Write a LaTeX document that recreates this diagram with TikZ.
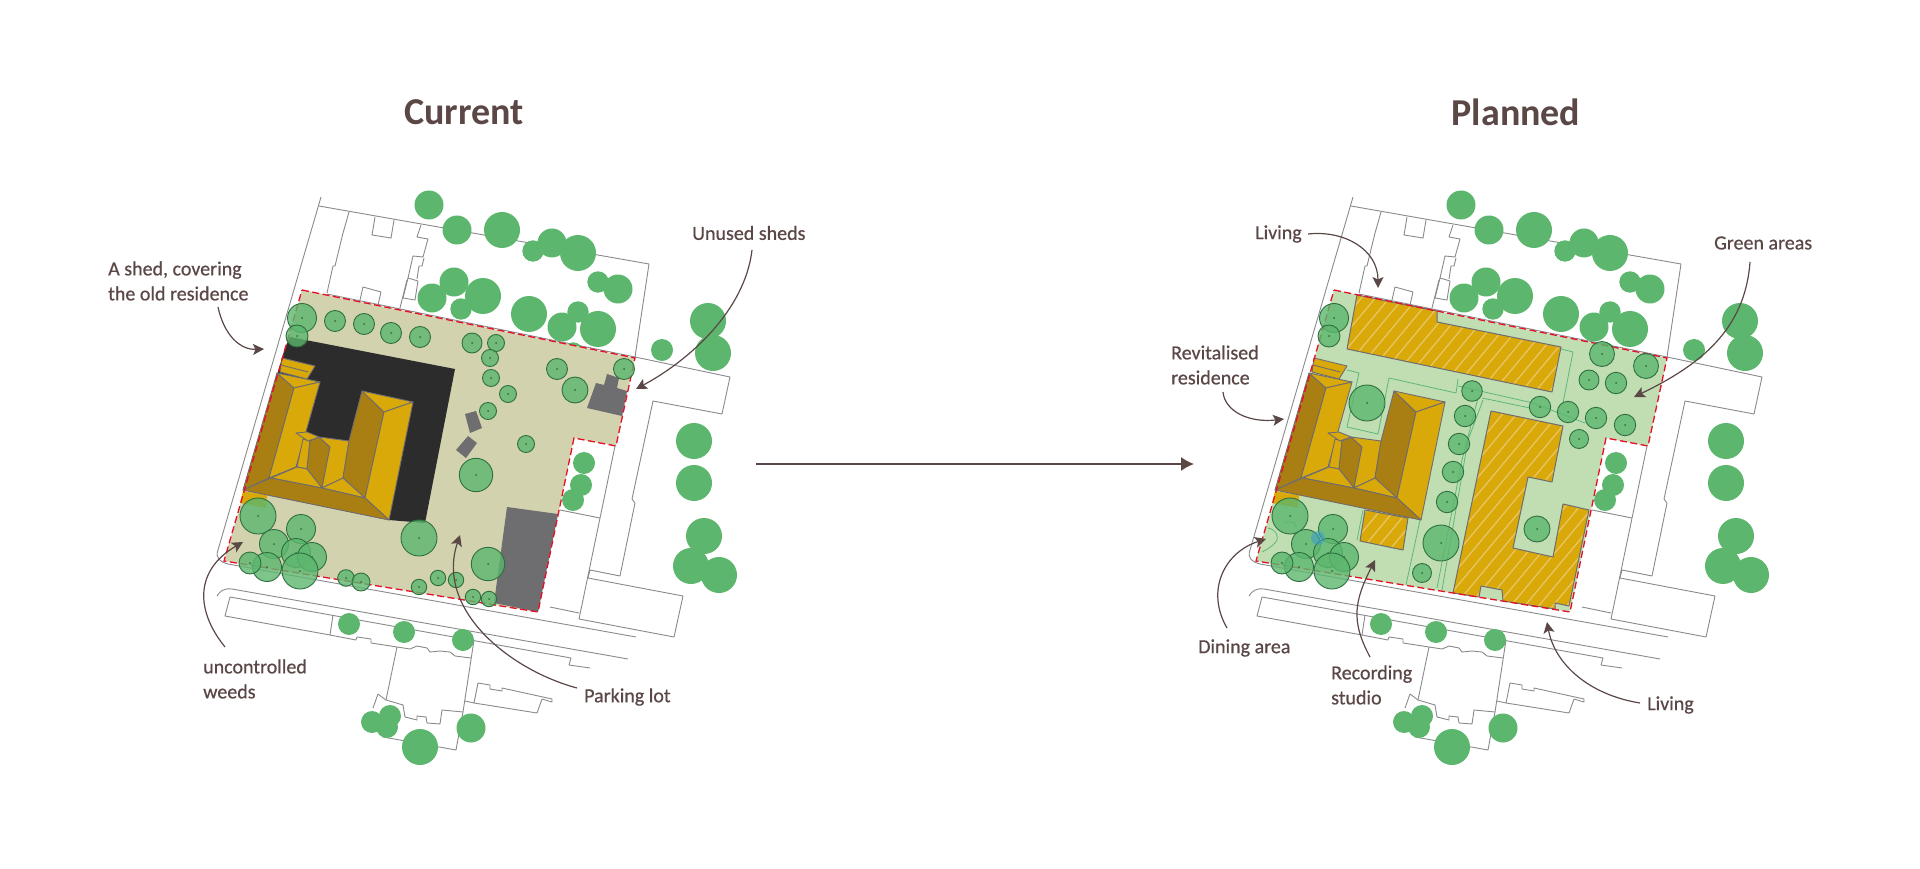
\documentclass[tikz,border=0pt]{standalone}
\usepackage{fontspec}
\setmainfont{Carlito}
\newfontfamily\notefont[FakeBold=0.6]{Carlito}
\usetikzlibrary{arrows.meta}

\definecolor{inkbrown}{HTML}{5A4746}
\definecolor{mapgray}{HTML}{8A898B}
\definecolor{treegreen}{HTML}{5CB66D}
\definecolor{treeedge}{HTML}{2E7040}
\definecolor{sandzone}{HTML}{D3D2AE}
\definecolor{greenzone}{HTML}{C1DEB3}
\definecolor{shedblack}{HTML}{2C2C2C}
\definecolor{shedgray}{HTML}{6E6D70}
\definecolor{roofdark}{HTML}{A97F13}
\definecolor{rooflight}{HTML}{D9A90A}
\definecolor{roofedge}{HTML}{6F6C70}
\definecolor{hatchlight}{HTML}{E8C566}
\definecolor{pathgreen}{HTML}{5DB77B}
\definecolor{siteblue}{HTML}{3E9FC4}
\definecolor{sitered}{HTML}{E60F28}

\tikzset{
    mapline/.style={draw=mapgray,line width=0.9pt,line join=round},
    solidtree/.style={fill=treegreen},
    canopy/.style={fill=treegreen,fill opacity=0.8,draw=treeedge,line width=0.9pt},
    siteedge/.style={draw=sitered,line width=1.3pt,dash pattern=on 7pt off 3.5pt},
    darkroof/.style={fill=roofdark,draw=roofedge,line width=0.9pt,line join=round},
    lightroof/.style={fill=rooflight,draw=roofedge,line width=0.9pt,line join=round},
    newblock/.style={fill=rooflight},
    blockedge/.style={draw=roofedge,line width=1pt,line join=round},
    gardenpath/.style={draw=pathgreen,line width=0.8pt},
    titletext/.style={text=inkbrown,font=\bfseries\fontsize{38}{40}\selectfont},
    notetext/.style={text=inkbrown,align=left,anchor=west,inner sep=0pt,font=\notefont\fontsize{20}{25}\selectfont},
    callout/.style={draw=inkbrown,line width=1.2pt,-{Stealth[length=11pt,width=11pt,inset=2.5pt]}},
}

% grey street map and the trees outside the site
\newcommand{\streetmap}{
    \draw[mapline] (321,197) -- (218,550) .. controls (215,558) and (220,562) .. (228,564) -- (636,637);
    \draw[mapline] (319,206) -- (649,264) -- (635,357) -- (730,377) -- (722,414) -- (653,401) -- (632,499) -- (635,503) -- (620,576) -- (590,570) -- (588,578) -- (683,596) -- (674,637) -- (579,619) -- (615,446);
    \draw[mapline] (327,294) -- (635,357);
    \draw[mapline] (349,212) -- (343,233) -- (335,266) -- (333,266) -- (327,293);
    \draw[mapline] (421,225) -- (417,237) -- (428,239) -- (423,257) -- (413,256) -- (408,278) -- (403,298) -- (415,300) -- (418,281) -- (408,278);
    \draw[mapline] (424,258) -- (422,266) -- (419,266) -- (417,279);
    \draw[mapline] (407,280) -- (400,308);
    \draw[mapline] (375,217) -- (372,235) -- (391,238) -- (394,220);
    \draw[mapline] (360,300) -- (363,287) -- (381,292) -- (378,305);
    \draw[mapline] (560,510) -- (600,518);
    \draw[mapline] (550,607) -- (579,613);
    \draw[mapline] (217,596) .. controls (220,591) and (224,588) .. (232,589) -- (628,659);
    \draw[mapline] (230,597) -- (225,616) -- (330,635) -- (356,640) -- (357,637) -- (371,639) -- (371,643) -- (397,647) -- (410,649) -- (417,646) -- (427,648) -- (430,652) -- (440,651) -- (450,652) -- (455,656) -- (471,658);
    \draw[mapline] (230,597) -- (571,658) -- (569,665) -- (590,668);
    \draw[mapline] (330,635) -- (333,615);
    \draw[mapline] (474,640) -- (463,712) -- (456,750) -- (383,737);
    \draw[mapline] (397,647) -- (386,700) -- (403,705) -- (405,717) -- (417,720) -- (417,716) -- (426,717) -- (427,723) -- (440,724) -- (442,710) -- (463,712);
    \draw[mapline] (386,700) -- (378,694) -- (373,708);
    \draw[mapline] (465,701) -- (474,703) -- (478,683) -- (490,685) -- (490,689) -- (502,691) -- (502,688) -- (552,699) -- (552,702) -- (542,699) -- (537,713) -- (474,703);
    \foreach \cx/\cy/\cr in {429/205/14.5,457/230/14.5,502/230/18,533/251/10.7,552/243/14.5,578/253/18,598/282/10.7,618/289/14.5,432/298/14.5,454/282/14.5,483/296/18,461/309/10.7,529/314/18,562/327/14.5,578/312/10.7,598/329/18,573/353/10.7,708/321/18,713/353/18,662/350/11,694/441/18,694/483/18,704/536/18,691/566/18,719/575/18,584/463/11,581/485/11,573/500/11,349/624/11,404/632/11,463/640/11,372/722/11,390/716/11,387/727/11,420/747/18,471/728/14.5}
        \fill[solidtree] (\cx,\cy) circle (\cr);
}
\newcommand{\sitezone}[1]{
    \fill[#1] (302,290) -- (635,358) -- (616,446) -- (574,438) -- (538,612) -- (224,561) -- cycle;
}
\newcommand{\siteoutline}{
    \draw[siteedge] (302,290) -- (635,358) -- (616,446) -- (574,438) -- (538,612) -- (224,561) -- cycle;
}
% the old house, same on both plans
\newcommand{\oldhouse}{
    \fill[rooflight] (243,491) -- (267,495) -- (266,508) -- (240,503) -- cycle;
    \draw[lightroof] (282,358) -- (315,366) -- (307,379) -- (280,372) -- cycle;
    \draw[lightroof] (281,365) -- (308,372);
    \draw[darkroof] (277,373) -- (294,388) -- (269,478) -- (243,490) -- cycle;
    \draw[lightroof] (277,373) -- (320,382) -- (294,388) -- cycle;
    \draw[lightroof] (294,388) -- (320,382) -- (296,467) -- (269,478) -- cycle;
    \draw[lightroof] (303,439) -- (310,441) -- (307,469) -- (297,467) -- cycle;
    \draw[darkroof] (319,437) -- (330,447) -- (322,488) -- (307,469) -- (310,441) -- cycle;
    \draw[lightroof] (319,437) -- (349,441) -- (343,478) -- (322,488) -- (330,447) -- cycle;
    \draw[lightroof] (296,433) -- (307,432) -- (319,437) -- (308,441) -- cycle;
    \draw[darkroof] (362,391) -- (384,412) -- (365,498) -- (343,478) -- (349,441) -- cycle;
    \draw[lightroof] (362,391) -- (413,402) -- (384,412) -- cycle;
    \draw[lightroof] (384,412) -- (413,402) -- (389,520) -- (365,498) -- cycle;
    \draw[lightroof] (271,478) -- (297,467) -- (307,469) -- (322,488) -- cycle;
    \draw[lightroof] (322,488) -- (343,478) -- (365,498) -- cycle;
    \draw[darkroof] (243,490) -- (271,478) -- (322,488) -- (365,498) -- (389,520) -- cycle;
}
% the tree group in the south-west corner, same on both plans
\newcommand{\cornertrees}{
    \foreach \cx/\cy/\cr in {302/318/14.5,297/336/11,258/516/18,301/529/14.5,274/544/14.5,296/553/14.5,312/557/14.5,267/567/14.5,250/563/11,300/571/18} {
        \draw[canopy] (\cx,\cy) circle (\cr);
        \fill[treeedge] (\cx,\cy) circle (1);
    }
}
% one hatched new building
\newcommand{\newhall}[1]{
    \fill[newblock] #1;
    \begin{scope}
        \clip #1;
        \foreach \k in {1040,1054,...,1720}
            \draw[hatchlight,line width=1.3pt] (\k,650) -- ++(300,-360);
    \end{scope}
    \draw[blockedge] #1;
}

\begin{document}
\begin{tikzpicture}[x=1pt,y=-1pt]
    \useasboundingbox (0,0) rectangle (1920,869);

    \node (currenttitle) at (464,112) [titletext] {Current}; % left title
    \node (plannedtitle) at (1516,112) [titletext] {Planned}; % right title

    % left plan
    \streetmap
    \sitezone{sandzone}
    \fill[shedblack] (290,337) -- (455,369) -- (425,523) -- (389,520) -- (243,490) -- (285,348) -- cycle; % big shed
    \fill[shedgray] (596,383) -- (604,385) -- (607,374) -- (619,378) -- (617,388) -- (627,391) -- (622,416) -- (587,408) -- cycle; % sheds
    \fill[shedgray] (465,414) -- (476,411) -- (482,428) -- (470,433) -- cycle;
    \fill[shedgray] (456,450) -- (468,436) -- (477,443) -- (466,458) -- cycle;
    \fill[shedgray] (507,507) -- (558,514) -- (538,612) -- (494,603) -- cycle; % parking lot
    \oldhouse
    \siteoutline
    \cornertrees
    \foreach \cx/\cy/\cr in {335/321/10.5,364/324/10.5,391/333/10.5,420/337/10.5,472/343/10,496/343/8.5,490/358/8.5,491/378/8.5,508/394/8.5,488/411/8.5,557/369/10.5,575/390/13,624/369/10.5,526/444/8.5,476/475/16.7,346/578/8.3,361/582/9,419/538/18,488/564/16.7,419/587/7.7,438/578/7.7,456/580/7.7,473/597/7.7,489/599/7.7} {
        \draw[canopy] (\cx,\cy) circle (\cr);
        \fill[treeedge] (\cx,\cy) circle (1);
    }

    % right plan, on the same map
    \begin{scope}[xshift=1032pt]
        \streetmap
        \sitezone{greenzone}
    \end{scope}
    \draw[gardenpath] (1347,370) -- (1359,373) -- (1347,427) -- (1378,434) -- (1389,378) -- (1456,393) -- (1458,379); % garden paths
    \draw[gardenpath] (1458,386) -- (1533,403) -- (1585,423);
    \draw[gardenpath] (1482,398) -- (1530,408);
    \draw[gardenpath] (1478,398) -- (1462,460) -- (1437,588);
    \draw[gardenpath] (1483,400) -- (1468,440) -- (1442,590);
    \draw[gardenpath] (1420,520) -- (1406,585);
    \draw[gardenpath] (1363,510) -- (1357,540);
    \draw[gardenpath] (1563,403) -- (1573,352) -- (1561,349);
    \draw[gardenpath] (1268,528) .. controls (1277,530) and (1280,538) .. (1275,543) .. controls (1270,548) and (1266,550) .. (1262,552);
    \draw[gardenpath] (1285,523) .. controls (1288,520) and (1296,522) .. (1296,527);
    \newhall{(1357,295) -- (1437,311) -- (1437,322) -- (1561,347) -- (1552,392) -- (1347,349) -- cycle}
    \newhall{(1491,411) -- (1563,426) -- (1552,482) -- (1528,477) -- (1513,548) -- (1553,557) -- (1563,504) -- (1589,510) -- (1569,606) -- (1555,603) -- (1555,609) -- (1503,601) -- (1502,590) -- (1481,586) -- (1479,597) -- (1453,593) -- cycle}
    \newhall{(1365,510) -- (1408,518) -- (1403,550) -- (1360,541) -- cycle}
    \begin{scope}[xshift=1032pt]
        \oldhouse
        \siteoutline
        \cornertrees
    \end{scope}
    \foreach \cx/\cy/\cr in {1367/403/18,1472/391/10.3,1465/416/10.7,1459/444/10.7,1453/472/10.7,1447/502/10.7,1441/543/18,1422/573/9.5,1540/407/10.7,1568/412/10.7,1596/418/10.7,1625/425/10.7,1579/439/9.5,1589/380/10,1616/383/10.7,1602/354/12.5,1646/366/12.5,1537/529/13} {
        \draw[canopy] (\cx,\cy) circle (\cr);
        \fill[treeedge] (\cx,\cy) circle (1);
    }
    \fill[siteblue,opacity=0.6] (1318,538) circle (7); % pond

    % big arrow between the plans
    \coordinate (flowstart) at (756,464);
    \coordinate (flowend) at (1194,464);
    \draw[draw=inkbrown,line width=1.3pt,-{Latex[length=13pt,width=14pt]}] (flowstart) -- (flowend);

    % notes of the left plan
    \node (shednote) at (108,281) [notetext] {A shed, covering\\the old residence};
    \node (unusednote) at (692,233) [notetext] {Unused sheds};
    \node (weedsnote) at (203,679) [notetext] {uncontrolled\\weeds};
    \node (parkingnote) at (584,697) [notetext] {Parking lot};
    \coordinate (shedtail) at (218,307);
    \coordinate (shedhead) at (264,349);
    \coordinate (unusedtail) at (752,250);
    \coordinate (unusedhead) at (636,389);
    \coordinate (weedstail) at (225,647);
    \coordinate (weedshead) at (243,542);
    \coordinate (parkingtail) at (577,688);
    \coordinate (parkinghead) at (460,535);
    \draw[callout] (shedtail) .. controls (224,335) and (240,350) .. (shedhead);
    \draw[callout] (unusedtail) .. controls (745,310) and (690,360) .. (unusedhead);
    \draw[callout] (weedstail) .. controls (195,610) and (195,570) .. (weedshead);
    \draw[callout] (parkingtail) .. controls (510,670) and (435,610) .. (parkinghead);

    % notes of the right plan
    \node (livingtop) at (1255,234) [notetext] {Living};
    \node (greennote) at (1714,243) [notetext] {Green areas};
    \node (revitalnote) at (1171,365) [notetext] {Revitalised\\residence};
    \node (diningnote) at (1198,648) [notetext] {Dining area};
    \node (studionote) at (1331,685) [notetext] {Recording\\studio};
    \node (livingbottom) at (1647,705) [notetext] {Living};
    \coordinate (livingtail) at (1308,234);
    \coordinate (livinghead) at (1378,288);
    \coordinate (greentail) at (1750,262);
    \coordinate (greenhead) at (1634,397);
    \coordinate (revitaltail) at (1223,392);
    \coordinate (revitalhead) at (1284,419);
    \coordinate (diningtail) at (1227,628);
    \coordinate (dininghead) at (1266,539);
    \coordinate (studiotail) at (1370,657);
    \coordinate (studiohead) at (1375,560);
    \coordinate (lowertail) at (1640,703);
    \coordinate (lowerhead) at (1547,622);
    \draw[callout] (livingtail) .. controls (1345,230) and (1378,250) .. (livinghead);
    \draw[callout] (greentail) .. controls (1745,330) and (1700,365) .. (greenhead);
    \draw[callout] (revitaltail) .. controls (1225,412) and (1250,423) .. (revitalhead);
    \draw[callout] (diningtail) .. controls (1205,590) and (1225,552) .. (dininghead);
    \draw[callout] (studiotail) .. controls (1350,620) and (1355,600) .. (studiohead);
    \draw[callout] (lowertail) .. controls (1590,695) and (1555,665) .. (lowerhead);
\end{tikzpicture}
\end{document}
